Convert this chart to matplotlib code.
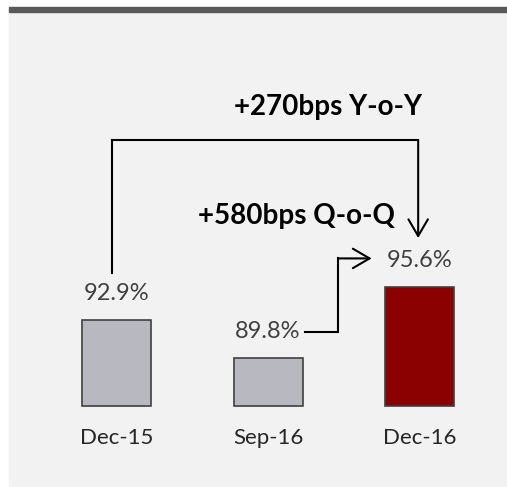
import matplotlib.pyplot as plt
from matplotlib.patches import Rectangle

categories = ["Dec-15", "Sep-16", "Dec-16"]
values = [92.9, 89.8, 95.6]
value_labels = ["92.9%", "89.8%", "95.6%"]
bar_colors = ["#b8b8c0", "#b8b8c0", "#8b0000"]
yoy_text = "+270bps Y-o-Y"
qoq_text = "+580bps Q-o-Q"
base = 85.93  # value axis starts here, not at zero

plt.rcParams["font.family"] = ["Lato", "DejaVu Sans"]

fig = plt.figure(figsize=(5.07, 4.87), dpi=100)
fig.patch.set_facecolor("white")
# grey panel and dark strip along the top
fig.patches.append(Rectangle((9 / 507, 1 / 487), 1, (475 - 1) / 487,
                             transform=fig.transFigure, color="#f2f2f2", zorder=-10))
fig.patches.append(Rectangle((9 / 507, 475 / 487), 1, 5 / 487,
                             transform=fig.transFigure, color="#595959", zorder=-10))

ax = fig.add_axes([0, 0, 1, 1])
ax.set_xlim(-0.7685, 2.576)
ax.set_ylim(79.36, 118.86)
ax.axis("off")

x = range(len(categories))
heights = [v - base for v in values]
ax.bar(x, heights, bottom=base, width=0.455, color=bar_colors,
       edgecolor="#404040", linewidth=1.2, clip_on=False)

for i, v in enumerate(values):
    ax.text(i, v + 2.15, value_labels[i], ha="center", va="center",
            fontsize=17, color="#404040")
    ax.text(i, 83.33, categories[i], ha="center", va="center",
            fontsize=16, color="#262626")

# year-on-year bracket: Dec-15 up, across, down to Dec-16
ax.plot([-0.03, -0.03, 1.99], [96.7, 107.5, 107.5], color="black", lw=1.5,
        solid_joinstyle="miter")
ax.annotate("", xy=(1.99, 99.55), xytext=(1.99, 107.5),
            arrowprops=dict(arrowstyle="->,head_length=0.6,head_width=0.35",
                            mutation_scale=20, color="black", lw=1.5,
                            shrinkA=0, shrinkB=0))
ax.text(1.395, 110.2, yoy_text, ha="center", va="center", fontsize=20,
        fontweight="bold", color="black")

# quarter-on-quarter arrow: Sep-16 label over to Dec-16 label
ax.plot([1.243, 1.463, 1.463], [91.96, 91.96, 97.9], color="black", lw=1.5,
        solid_joinstyle="miter")
ax.annotate("", xy=(1.683, 97.9), xytext=(1.463, 97.9),
            arrowprops=dict(arrowstyle="->,head_length=0.6,head_width=0.35",
                            mutation_scale=20, color="black", lw=1.5,
                            shrinkA=0, shrinkB=0))
ax.text(1.19, 101.3, qoq_text, ha="center", va="center", fontsize=20,
        fontweight="bold", color="black")

fig.savefig("out.png", dpi=100, facecolor=fig.get_facecolor())
